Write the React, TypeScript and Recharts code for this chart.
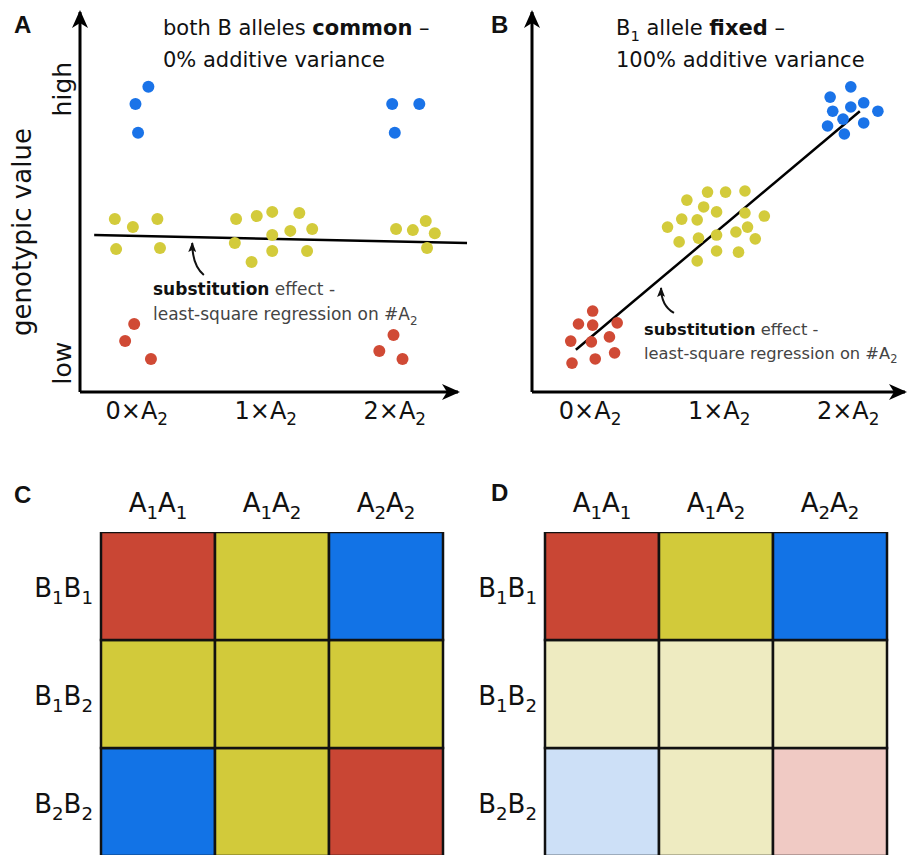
import React from "react";
import {
  ScatterChart,
  Scatter,
  XAxis,
  YAxis,
  ReferenceLine,
  BarChart,
  Bar,
  Cell,
} from "recharts";

type Pt = { x: number; y: number };

// ---- panels A & B: genotypic value vs number of A2 alleles ----
const xTicks = [0, 1, 2];
const xTickLabels = ["0×A2", "1×A2", "2×A2"];
const yTicks = [0.76, 7.97];
const yTickLabels = ["low", "high"];

// A — both B alleles common
const aBlue: Pt[] = [
  { x: 0.09, y: 8.03 }, { x: -0.01, y: 7.58 }, { x: 0.01, y: 6.82 },
  { x: 1.98, y: 7.58 }, { x: 2.19, y: 7.58 }, { x: 2.0, y: 6.82 },
];
const aYellow: Pt[] = [
  { x: -0.17, y: 4.55 }, { x: -0.03, y: 4.34 }, { x: 0.16, y: 4.55 },
  { x: -0.16, y: 3.76 }, { x: 0.18, y: 3.79 },
  { x: 0.77, y: 4.55 }, { x: 0.93, y: 4.63 }, { x: 1.05, y: 4.74 },
  { x: 1.26, y: 4.71 }, { x: 1.36, y: 4.29 }, { x: 1.19, y: 4.24 },
  { x: 1.05, y: 4.13 }, { x: 0.76, y: 3.92 }, { x: 1.05, y: 3.71 },
  { x: 1.32, y: 3.71 }, { x: 0.89, y: 3.42 },
  { x: 2.01, y: 4.29 }, { x: 2.14, y: 4.26 }, { x: 2.24, y: 4.5 },
  { x: 2.31, y: 4.18 }, { x: 2.25, y: 3.79 },
];
const aRed: Pt[] = [
  { x: -0.02, y: 1.79 }, { x: -0.09, y: 1.34 }, { x: 0.11, y: 0.87 },
  { x: 1.99, y: 1.5 }, { x: 1.88, y: 1.08 }, { x: 2.06, y: 0.87 },
];
const aRegression: Pt[] = [{ x: -0.33, y: 4.13 }, { x: 2.56, y: 3.92 }];
const aPointer: Pt[] = [{ x: 0.52, y: 3.08 }, { x: 0.43, y: 3.92 }];

// B — B1 allele fixed
const bBlue: Pt[] = [
  { x: 2.02, y: 8.03 }, { x: 1.86, y: 7.76 }, { x: 2.02, y: 7.5 },
  { x: 2.12, y: 7.61 }, { x: 2.23, y: 7.39 }, { x: 1.88, y: 7.39 },
  { x: 1.96, y: 7.18 }, { x: 2.12, y: 7.08 }, { x: 1.84, y: 7.0 },
  { x: 1.97, y: 6.79 },
];
const bYellow: Pt[] = [
  { x: 0.91, y: 5.26 }, { x: 1.05, y: 5.26 }, { x: 1.2, y: 5.29 },
  { x: 0.75, y: 5.05 }, { x: 0.88, y: 4.87 }, { x: 0.98, y: 4.74 },
  { x: 1.2, y: 4.71 }, { x: 1.35, y: 4.63 }, { x: 0.71, y: 4.55 },
  { x: 0.83, y: 4.53 }, { x: 0.6, y: 4.34 }, { x: 0.98, y: 4.13 },
  { x: 1.13, y: 4.21 }, { x: 1.22, y: 4.34 }, { x: 1.28, y: 4.03 },
  { x: 0.69, y: 3.95 }, { x: 0.84, y: 4.05 }, { x: 0.98, y: 3.71 },
  { x: 1.15, y: 3.68 }, { x: 0.83, y: 3.45 },
];
const bRed: Pt[] = [
  { x: 0.02, y: 2.13 }, { x: -0.09, y: 1.79 }, { x: 0.02, y: 1.76 },
  { x: 0.21, y: 1.82 }, { x: -0.15, y: 1.34 }, { x: 0.01, y: 1.32 },
  { x: 0.15, y: 1.45 }, { x: -0.14, y: 0.76 }, { x: 0.04, y: 0.87 },
  { x: 0.19, y: 1.03 },
];
const bRegression: Pt[] = [{ x: -0.11, y: 1.11 }, { x: 2.09, y: 7.39 }];
const bPointer: Pt[] = [{ x: 0.65, y: 2.08 }, { x: 0.55, y: 2.74 }];

// ---- panels C & D: two-locus genotype tables ----
const aGenotypes = ["A1A1", "A1A2", "A2A2"];
const bGenotypes = ["B1B1", "B1B2", "B2B2"];
// 0 = low, 1 = intermediate, 2 = high genotypic value; rows follow bGenotypes
const genoClass = [
  [0, 1, 2],
  [1, 1, 1],
  [2, 1, 0],
];
const presentC = [true, true, true];
const presentD = [true, false, false];

const FONT = "'DejaVu Sans', sans-serif";
const dotColors = ["#d04a35", "#d3cb3b", "#1a73e8"];
const cellColors = ["#c94634", "#d2ca3a", "#1273e6"];
const fadedColors = ["#f0cac4", "#eeebc1", "#cde0f7"];

// letters followed by digits -> digits drawn as subscripts
function withSubs(label: string, size: number) {
  const parts: { t: string; sub: boolean }[] = [];
  for (let i = 0; i < label.length; i++) {
    const ch = label[i];
    const sub = /\d/.test(ch) && i > 0 && /[A-Za-z]/.test(label[i - 1]);
    const last = parts[parts.length - 1];
    if (last && last.sub === sub) last.t += ch;
    else parts.push({ t: ch, sub });
  }
  const shift = size * 0.27;
  let down = false;
  return parts.map((p, i) => {
    let dy: number | undefined;
    if (p.sub && !down) {
      dy = shift;
      down = true;
    } else if (!p.sub && down) {
      dy = -shift;
      down = false;
    }
    return (
      <tspan key={i} dy={dy} fontSize={p.sub ? size * 0.7 : size}>
        {p.t}
      </tspan>
    );
  });
}

function GenoTick({ x, y, payload }: any) {
  const label = xTickLabels[xTicks.indexOf(payload.value)] ?? "";
  return (
    <text x={x} y={y + 27} textAnchor="middle" fontFamily={FONT} fill="#111">
      {withSubs(label, 24)}
    </text>
  );
}

function ValueTick({ x, y, payload }: any) {
  const label = yTickLabels[yTicks.indexOf(payload.value)] ?? "";
  const bx = x - 9;
  return (
    <text
      x={bx}
      y={y}
      transform={`rotate(-90 ${bx} ${y})`}
      textAnchor="middle"
      fontFamily={FONT}
      fontSize={25}
      fill="#111"
    >
      {label}
    </text>
  );
}

function CurvedPointer(props: any) {
  const { x1, y1, x2, y2 } = props;
  const cy = y1 - (y1 - y2) * 0.3;
  return (
    <path
      d={`M${x1},${y1} Q${x2},${cy} ${x2},${y2}`}
      fill="none"
      stroke="#111"
      strokeWidth={2}
      markerEnd="url(#pointerTip)"
    />
  );
}

const axisLineX = { stroke: "#000", strokeWidth: 3, markerEnd: "url(#axisTip)" };
const axisLineY = { stroke: "#000", strokeWidth: 3, markerStart: "url(#axisTip)" };

function GenoPlot({
  width,
  yWidth,
  right,
  domain,
  blue,
  yellow,
  red,
  regression,
  pointer,
  showValueTicks,
  r,
}: {
  width: number;
  yWidth: number;
  right: number;
  domain: [number, number];
  blue: Pt[];
  yellow: Pt[];
  red: Pt[];
  regression: Pt[];
  pointer: Pt[];
  showValueTicks: boolean;
  r: number;
}) {
  const dot = (fill: string) => (p: any) => (
    <circle cx={p.cx} cy={p.cy} r={r} fill={fill} />
  );
  return (
    <ScatterChart
      width={width}
      height={440}
      margin={{ top: 12, right, bottom: 0, left: 0 }}
    >
      <XAxis
        type="number"
        dataKey="x"
        domain={domain}
        allowDataOverflow
        ticks={xTicks}
        interval={0}
        tick={<GenoTick />}
        tickLine={false}
        tickSize={0}
        tickMargin={0}
        axisLine={axisLineX}
        height={48}
      />
      <YAxis
        type="number"
        dataKey="y"
        domain={[0, 10]}
        allowDataOverflow
        ticks={yTicks}
        interval={0}
        tick={showValueTicks ? <ValueTick /> : false}
        tickLine={false}
        tickSize={0}
        tickMargin={0}
        axisLine={axisLineY}
        width={yWidth}
      />
      <ReferenceLine
        segment={[regression[0], regression[1]]}
        stroke="#000"
        strokeWidth={2.5}
        ifOverflow="visible"
      />
      <ReferenceLine
        segment={[pointer[0], pointer[1]]}
        shape={CurvedPointer}
        ifOverflow="visible"
      />
      <Scatter data={red} shape={dot(dotColors[0])} isAnimationActive={false} />
      <Scatter data={yellow} shape={dot(dotColors[1])} isAnimationActive={false} />
      <Scatter data={blue} shape={dot(dotColors[2])} isAnimationActive={false} />
    </ScatterChart>
  );
}

function ColTick({ x, y, payload }: any) {
  return (
    <text x={x} y={y - 20} textAnchor="middle" fontFamily={FONT} fill="#111">
      {withSubs(String(payload.value), 26)}
    </text>
  );
}

function RowTick({ x, y, payload }: any) {
  const label = bGenotypes[bGenotypes.length - 1 - Math.floor(payload.value)];
  return (
    <text x={x - 8} y={y + 11} textAnchor="end" fontFamily={FONT} fill="#111">
      {withSubs(label, 26)}
    </text>
  );
}

function GenotypeTable({
  present,
  yWidth,
  right,
}: {
  present: boolean[];
  yWidth: number;
  right: number;
}) {
  const data = aGenotypes.map((a) => {
    const row: Record<string, string | number> = { a };
    bGenotypes.forEach((b) => (row[b] = 1));
    return row;
  });
  const rowTicks = bGenotypes.map((_, i) => i + 0.5);
  return (
    <BarChart
      width={454}
      height={390}
      data={data}
      margin={{ top: 0, right, bottom: 4, left: 0 }}
      barCategoryGap={0}
      barGap={0}
    >
      <XAxis
        dataKey="a"
        orientation="top"
        height={62}
        interval={0}
        tick={<ColTick />}
        tickLine={false}
        tickSize={0}
        tickMargin={0}
        axisLine={false}
      />
      <YAxis
        type="number"
        domain={[0, bGenotypes.length]}
        allowDataOverflow
        ticks={rowTicks}
        interval={0}
        tick={<RowTick />}
        tickLine={false}
        tickSize={0}
        tickMargin={0}
        axisLine={false}
        width={yWidth}
      />
      {[...bGenotypes].reverse().map((b) => {
        const ri = bGenotypes.indexOf(b);
        return (
          <Bar
            key={b}
            dataKey={b}
            stackId="g"
            stroke="#111"
            strokeWidth={2.5}
            isAnimationActive={false}
          >
            {aGenotypes.map((a, ci) => (
              <Cell
                key={a}
                fill={
                  present[ri]
                    ? cellColors[genoClass[ri][ci]]
                    : fadedColors[genoClass[ri][ci]]
                }
              />
            ))}
          </Bar>
        );
      })}
    </BarChart>
  );
}

const LETTER_FONT = "'Liberation Sans', Arial, sans-serif";

export default function App() {
  return (
    <div
      style={{
        position: "absolute",
        left: 0,
        top: 0,
        width: 908,
        height: 855,
        overflow: "hidden",
        background: "#fff",
        fontFamily: FONT,
      }}
    >
      <div style={{ position: "absolute", left: 0, top: 0 }}>
        <GenoPlot
          width={480}
          yWidth={80}
          right={22}
          domain={[-0.44, 2.49]}
          blue={aBlue}
          yellow={aYellow}
          red={aRed}
          regression={aRegression}
          pointer={aPointer}
          showValueTicks
          r={6}
        />
      </div>
      <div style={{ position: "absolute", left: 454, top: 0 }}>
        <GenoPlot
          width={454}
          yWidth={78}
          right={3}
          domain={[-0.45, 2.44]}
          blue={bBlue}
          yellow={bYellow}
          red={bRed}
          regression={bRegression}
          pointer={bPointer}
          showValueTicks={false}
          r={5.8}
        />
      </div>
      <div style={{ position: "absolute", left: 0, top: 470 }}>
        <GenotypeTable present={presentC} yWidth={101} right={11} />
      </div>
      <div style={{ position: "absolute", left: 454, top: 470 }}>
        <GenotypeTable present={presentD} yWidth={91} right={21} />
      </div>

      <svg
        width={908}
        height={855}
        style={{ position: "absolute", left: 0, top: 0, pointerEvents: "none" }}
      >
        <defs>
          <marker
            id="axisTip"
            markerUnits="userSpaceOnUse"
            markerWidth={18}
            markerHeight={16}
            refX={16}
            refY={8}
            orient="auto-start-reverse"
          >
            <path d="M0,0 L18,8 L0,16 L5,8 Z" fill="#000" />
          </marker>
          <marker
            id="pointerTip"
            markerUnits="userSpaceOnUse"
            markerWidth={10}
            markerHeight={8}
            refX={9}
            refY={4}
            orient="auto"
          >
            <path d="M0,0 L10,4 L0,8 L2,4 Z" fill="#111" />
          </marker>
        </defs>

        <g fontFamily={LETTER_FONT} fontWeight={700} fontSize={24} fill="#111">
          <text x={14} y={33}>A</text>
          <text x={491} y={33}>B</text>
          <text x={14} y={503}>C</text>
          <text x={491} y={501}>D</text>
        </g>

        <text
          x={31}
          y={232}
          transform="rotate(-90 31 232)"
          textAnchor="middle"
          fontFamily={FONT}
          fontSize={26}
          fill="#111"
        >
          genotypic value
        </text>

        <g fontFamily={FONT} fontSize={21} fill="#111">
          <text x={163} y={35}>
            both B alleles <tspan fontWeight={700}>common</tspan> –
          </text>
          <text x={163} y={67}>0% additive variance</text>
          <text x={616} y={35}>
            {withSubs("B1 allele ", 21)}
            <tspan fontWeight={700}>fixed</tspan>
            <tspan> –</tspan>
          </text>
          <text x={616} y={67}>100% additive variance</text>
        </g>

        <g fontFamily={FONT} fontSize={17} fill="#444">
          <text x={153} y={295}>
            <tspan fontWeight={700} fill="#111">substitution</tspan> effect -
          </text>
          <text x={153} y={320}>
            {withSubs("least-square regression on #A2", 17)}
          </text>
        </g>
        <g fontFamily={FONT} fontSize={16.3} fill="#444">
          <text x={644} y={335}>
            <tspan fontWeight={700} fill="#111">substitution</tspan> effect -
          </text>
          <text x={644} y={359}>
            {withSubs("least-square regression on #A2", 16.3)}
          </text>
        </g>
      </svg>
    </div>
  );
}
